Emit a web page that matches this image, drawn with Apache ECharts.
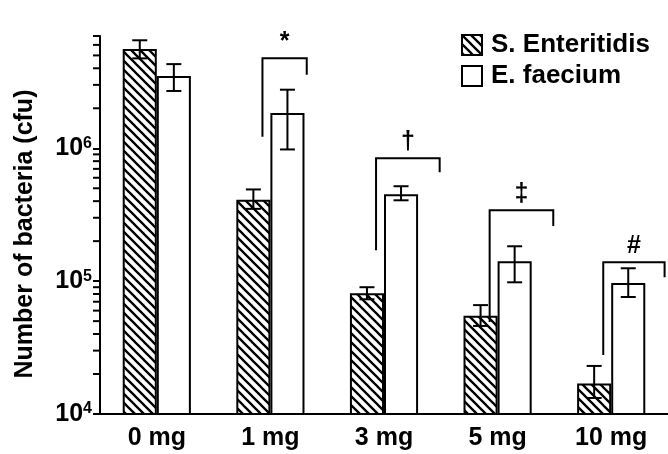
<!DOCTYPE html>
<html><head><meta charset="utf-8">
<script src="https://cdn.jsdelivr.net/npm/echarts@6/dist/echarts.min.js"></script>
<style>html,body{margin:0;padding:0;background:#fff}#c{width:668px;height:454px}</style>
</head><body><div id="c"></div>
<script>
// ---- data ----
const categories = ['0 mg', '1 mg', '3 mg', '5 mg', '10 mg'];
const seriesNames = ['S. Enteritidis', 'E. faecium'];
const sEnt = [5.6e6, 4.1e5, 8.1e4, 5.5e4, 1.7e4];
const sEntLow = [4.75e6, 3.5e5, 7.3e4, 4.6e4, 1.32e4];
const sEntHigh = [6.5e6, 4.9e5, 9.0e4, 6.6e4, 2.3e4];
const eFae = [3.5e6, 1.84e6, 4.5e5, 1.41e5, 9.7e4];
const eFaeLow = [2.7e6, 9.8e5, 4.06e5, 9.8e4, 7.6e4];
const eFaeHigh = [4.3e6, 2.76e6, 5.18e5, 1.83e5, 1.25e5];
const yMin = 1e4, yMax = 7e6;
const yTickLabels = {4: '{n|10}{s|4}', 5: '{n|10}{s|5}', 6: '{n|10}{s|6}'};
const minorTicks = [2e4,3e4,4e4,5e4,6e4,7e4,8e4,9e4,
                    2e5,3e5,4e5,5e5,6e5,7e5,8e5,9e5,
                    2e6,3e6,4e6,5e6,6e6,7e6];
const sigMarks = ['*', '\u2020', '\u2021', '#'];
const sigCategory = [1, 2, 3, 4];
const sigTop = [4.75e6, 8.4e5, 3.42e5, 1.39e5];
const sigLeftEnd = [1.22e6, 1.71e5, 4.92e4, 2.78e4];
const sigRightEnd = [3.58e6, 6.6e5, 2.6e5, 1.07e5];

// ---- style ----
const FONT = 'Liberation Sans, Arial, Helvetica, sans-serif';
const bracketLeftFrac = -0.07;
const bracketRightFrac = [0.32, 0.49, 0.49, 0.47];

function hatch() {
  const s = 9;
  const c = document.createElement('canvas');
  c.width = s; c.height = s;
  const g = c.getContext('2d');
  g.fillStyle = '#fff'; g.fillRect(0, 0, s, s);
  g.strokeStyle = '#000'; g.lineWidth = 2.3;
  g.beginPath();
  for (const k of [-1, 0, 1]) { g.moveTo(k * s - 1, -1); g.lineTo(k * s + s + 1, s + 1); }
  g.stroke();
  return c;
}
const hatchPattern = { image: hatch(), repeat: 'repeat' };

function errRender(offsetFrac) {
  return function (params, api) {
    const band = params.coordSys.width / categories.length;
    const cat = api.value(0);
    const lo = api.coord([cat, api.value(1)]);
    const hi = api.coord([cat, api.value(2)]);
    const x = lo[0] + offsetFrac * band;
    const w = 7.5;
    const st = { stroke: '#000', lineWidth: 2, fill: null };
    return { type: 'group', children: [
      { type: 'line', shape: { x1: x, y1: lo[1], x2: x, y2: hi[1] }, style: st },
      { type: 'line', shape: { x1: x - w, y1: lo[1], x2: x + w, y2: lo[1] }, style: st },
      { type: 'line', shape: { x1: x - w, y1: hi[1], x2: x + w, y2: hi[1] }, style: st }
    ]};
  };
}

const chart = echarts.init(document.getElementById('c'), null, { renderer: 'canvas' });
chart.setOption({
  animation: false,
  backgroundColor: '#fff',
  textStyle: { fontFamily: FONT },
  grid: { left: 100, right: 0, top: 36, bottom: 40, containLabel: false },
  legend: {
    data: seriesNames, orient: 'vertical', left: 456, top: 27,
    icon: 'rect', itemWidth: 20, itemHeight: 20, itemGap: 5,
    itemStyle: { borderColor: '#000', borderWidth: 2 },
    textStyle: { fontFamily: FONT, fontSize: 26, fontWeight: 'bold', color: '#000', padding: [0, 0, 0, 4] }
  },
  xAxis: {
    type: 'category', data: categories,
    axisLine: { lineStyle: { color: '#000', width: 2 } },
    axisTick: { length: 7, lineStyle: { color: '#000', width: 2 }, alignWithLabel: false },
    axisLabel: { color: '#000', fontFamily: FONT, fontSize: 25, fontWeight: 'bold', margin: 12 }
  },
  yAxis: {
    type: 'log', logBase: 10, min: yMin, max: yMax,
    name: 'Number of bacteria (cfu)', nameLocation: 'middle', nameGap: 62,
    nameTextStyle: { color: '#000', fontFamily: FONT, fontSize: 25, fontWeight: 'bold', padding: [0, 18, 0, 0] },
    axisLine: { show: true, lineStyle: { color: '#000', width: 2 } },
    axisTick: { show: true, length: 7, lineStyle: { color: '#000', width: 2 } },
    splitLine: { show: false },
    minorTick: { show: false },
    axisLabel: {
      margin: 8, color: '#000',
      formatter: function (v) {
        const e = Math.log10(v); const r = Math.round(e);
        if (Math.abs(e - r) > 1e-6) return '';
        return yTickLabels[r] || '';
      },
      rich: {
        n: { fontFamily: FONT, fontSize: 25, fontWeight: 'bold', color: '#000', lineHeight: 26 },
        s: { fontFamily: FONT, fontSize: 16, fontWeight: 'bold', color: '#000', verticalAlign: 'top', lineHeight: 16 }
      }
    }
  },
  series: [
    { name: seriesNames[0], type: 'bar', data: sEnt, barGap: '0%', barCategoryGap: '40%',
      itemStyle: { color: hatchPattern, borderColor: '#000', borderWidth: 2 }, z: 2 },
    { name: seriesNames[1], type: 'bar', data: eFae, barGap: '0%', barCategoryGap: '40%',
      itemStyle: { color: '#fff', borderColor: '#000', borderWidth: 2 }, z: 2 },
    { name: 'errS', type: 'custom', z: 5, silent: true, clip: false,
      encode: { x: 0, y: [1, 2] },
      data: sEnt.map((v, i) => [i, sEntLow[i], sEntHigh[i]]),
      renderItem: errRender(-0.15) },
    { name: 'errE', type: 'custom', z: 5, silent: true, clip: false,
      encode: { x: 0, y: [1, 2] },
      data: eFae.map((v, i) => [i, eFaeLow[i], eFaeHigh[i]]),
      renderItem: errRender(0.15) },
    { name: 'sig', type: 'custom', z: 5, silent: true, clip: false,
      encode: { x: 0, y: [1, 2, 3] },
      data: sigCategory.map((c, i) => [c, sigTop[i], sigLeftEnd[i], sigRightEnd[i], i]),
      renderItem: function (params, api) {
        const band = params.coordSys.width / categories.length;
        const cat = api.value(0);
        const idx = api.value(4);
        const top = api.coord([cat, api.value(1)]);
        const yl = api.coord([cat, api.value(2)])[1];
        const yr = api.coord([cat, api.value(3)])[1];
        const xl = top[0] + bracketLeftFrac * band;
        const xr = top[0] + bracketRightFrac[idx] * band;
        return { type: 'group', children: [
          { type: 'polyline', shape: { points: [[xl, yl], [xl, top[1]], [xr, top[1]], [xr, yr]] },
            style: { stroke: '#000', lineWidth: 2, fill: null } },
          { type: 'text', x: (xl + xr) / 2, y: top[1] - 4,
            style: { text: sigMarks[idx], fill: '#000', font: 'bold 25px ' + FONT,
                     textAlign: 'center', textVerticalAlign: 'bottom' } }
        ]};
      } },
    { name: 'minorTicks', type: 'custom', z: 5, silent: true, clip: false,
      encode: { x: 0, y: 1 },
      data: minorTicks.map(v => [0, v]),
      renderItem: function (params, api) {
        const p = api.coord([0, api.value(1)]);
        const x0 = params.coordSys.x;
        return { type: 'line', shape: { x1: x0 - 7, y1: p[1], x2: x0, y2: p[1] },
                 style: { stroke: '#000', lineWidth: 2 } };
      } }
  ]
});
</script></body></html>
